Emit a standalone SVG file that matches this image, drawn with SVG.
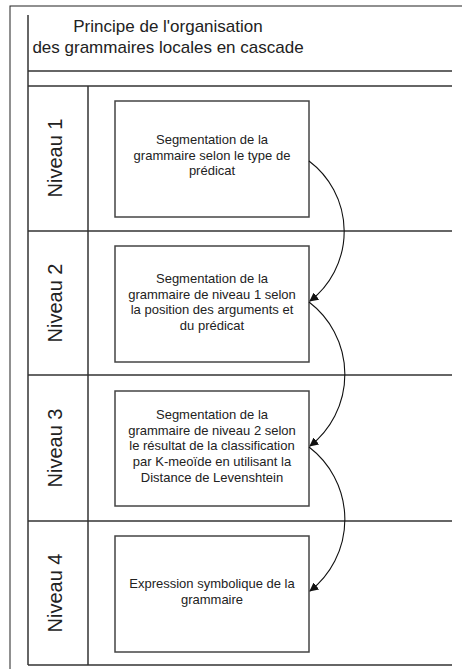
<svg xmlns="http://www.w3.org/2000/svg" width="462" height="669" viewBox="0 0 462 669">
<style>
.frame{fill:none;stroke:#222;stroke-width:1}
.rule{stroke:#333;stroke-width:1.5;fill:none}
.box{fill:#fff;stroke:#444;stroke-width:1.5}
.title{font-family:"Liberation Sans",Arial,sans-serif;font-size:17px;fill:#222;text-anchor:middle}
.lane{font-family:"Liberation Sans",Arial,sans-serif;font-size:20px;fill:#222;text-anchor:middle}
.txt{font-family:"Liberation Sans",Arial,sans-serif;font-size:13px;fill:#222;text-anchor:middle}
.conn{fill:none;stroke:#111;stroke-width:1.1}
</style>
<defs>
<marker id="arr" viewBox="0 0 10 10" refX="9" refY="5" markerWidth="9" markerHeight="9" markerUnits="userSpaceOnUse" orient="auto">
<path d="M0,0 L10,5 L0,10 z" fill="#111"/>
</marker>
</defs>
<rect width="462" height="669" fill="#fff"/>
<g id="frame">
<rect class="frame" x="10" y="6" width="470" height="680"/>
<line class="rule" x1="28" y1="15" x2="28" y2="665"/>
<line class="rule" x1="28" y1="71" x2="452" y2="71"/>
<line class="rule" x1="28" y1="86" x2="452" y2="86"/>
<line class="rule" x1="88" y1="86" x2="88" y2="665"/>
<line class="rule" x1="28" y1="231" x2="452" y2="231"/>
<line class="rule" x1="28" y1="375" x2="452" y2="375"/>
<line class="rule" x1="28" y1="521" x2="452" y2="521"/>
<line class="rule" x1="28" y1="665" x2="452" y2="665"/>
</g>
<g id="title">
<text class="title" x="168" y="32">Principe de l'organisation</text>
<text class="title" x="168" y="53">des grammaires locales en cascade</text>
</g>
<g id="lane1"><text class="lane" transform="translate(62,158) rotate(-90)">Niveau 1</text></g>
<g id="lane2"><text class="lane" transform="translate(62,303) rotate(-90)">Niveau 2</text></g>
<g id="lane3"><text class="lane" transform="translate(62,448) rotate(-90)">Niveau 3</text></g>
<g id="lane4"><text class="lane" transform="translate(62,593) rotate(-90)">Niveau 4</text></g>
<g id="node1">
<rect class="box" x="115" y="101" width="194" height="116"/>
<text class="txt" x="212" y="144">Segmentation de la</text>
<text class="txt" x="212" y="160">grammaire selon le type de</text>
<text class="txt" x="212" y="175">prédicat</text>
</g>
<g id="node2">
<rect class="box" x="115" y="246" width="194" height="116"/>
<text class="txt" x="212" y="283">Segmentation de la</text>
<text class="txt" x="212" y="299">grammaire de niveau 1 selon</text>
<text class="txt" x="212" y="314">la position des arguments et</text>
<text class="txt" x="212" y="330">du prédicat</text>
</g>
<g id="node3">
<rect class="box" x="115" y="391" width="194" height="115"/>
<text class="txt" x="212" y="419">Segmentation de la</text>
<text class="txt" x="212" y="435">grammaire de niveau 2 selon</text>
<text class="txt" x="212" y="450">le résultat de la classification</text>
<text class="txt" x="212" y="466">par K-meoïde en utilisant la</text>
<text class="txt" x="212" y="482">Distance de Levenshtein</text>
</g>
<g id="node4">
<rect class="box" x="115" y="536" width="194" height="116"/>
<text class="txt" x="212" y="588">Expression symbolique de la</text>
<text class="txt" x="212" y="604">grammaire</text>
</g>
<g id="connectors">
<path class="conn" marker-end="url(#arr)" d="M309,161 A88,88 0 0 1 310,301"/>
<path class="conn" marker-end="url(#arr)" d="M309,302 A91,91 0 0 1 310,446"/>
<path class="conn" marker-end="url(#arr)" d="M309,447 A91,91 0 0 1 310,591"/>
</g>
</svg>
